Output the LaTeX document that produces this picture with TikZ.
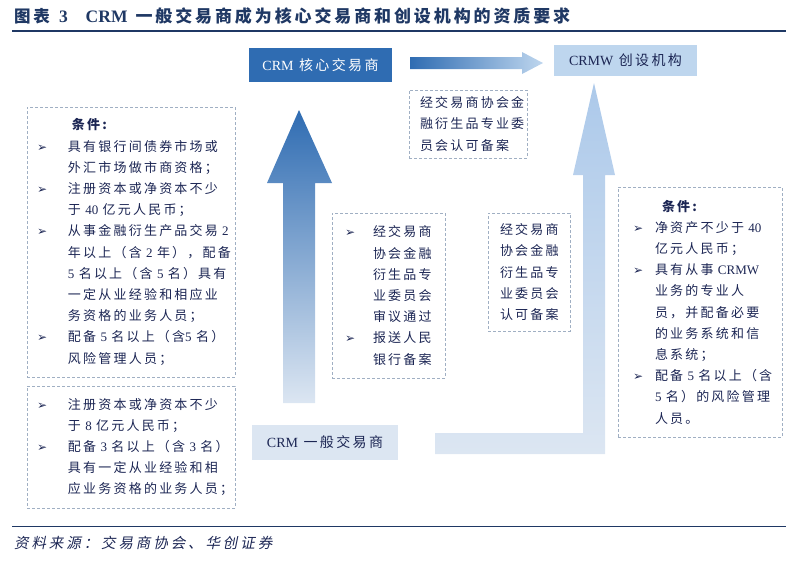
\documentclass[tikz,border=0pt]{standalone}
\usepackage{fontspec}
\setmainfont{Liberation Serif}
\newfontfamily\cjk[LetterSpace=17]{Noto Sans CJK SC}
\newfontfamily\cjkit[LetterSpace=20,FakeSlant=0.2]{Noto Sans CJK SC}
\newfontfamily\sym{DejaVu Sans}
\definecolor{crmdark}{RGB}{47,108,178}
\definecolor{crmlight}{RGB}{220,230,242}
\definecolor{crmwfill}{RGB}{190,214,238}
\definecolor{crmarrow}{RGB}{172,201,234}
\definecolor{crmnavy}{RGB}{28,38,84}
\definecolor{crmtitle}{RGB}{31,56,100}
\definecolor{crmdash}{RGB}{160,175,195}
\usetikzlibrary{positioning}
\newcommand\en[1]{{\rmfamily #1}}
\newcommand\itm[1][31pt]{\makebox[#1][l]{\sym\fontsize{12}{12}\selectfont ➢}}
\newcommand\cnt[1][31pt]{\hspace*{#1}}

\begin{document}
\begin{tikzpicture}[x=1pt,y=-1pt,
  corebox/.style={fill=crmdark,text=white,minimum width=143pt,minimum height=34pt,inner sep=0pt,font=\cjk\fontsize{14}{16}\selectfont},
  lightbox/.style={fill=crmlight,text=crmnavy,minimum width=146pt,minimum height=35pt,inner sep=0pt,font=\cjk\fontsize{14}{16}\selectfont},
  infobox/.style={draw=crmdash,dashed,dash pattern=on 3pt off 2pt,line width=0.7pt,text=crmnavy,align=left,inner ysep=0pt,font=\cjk\fontsize{13}{21.2}\selectfont}]
  \useasboundingbox (0,0) rectangle (796,563);
  % Title
  \node[anchor=west,text=crmtitle,inner sep=0pt] (title) at (14,16)
    {{\cjk\bfseries\fontsize{16.5}{18}\selectfont 图表}\hspace{9pt}{\bfseries\fontsize{17.5}{18}\selectfont 3\hspace{18pt}CRM}\hspace{8pt}{\cjk\bfseries\fontsize{17}{18}\selectfont 一般交易商成为核心交易商和创设机构的资质要求}};
  \draw[crmtitle,line width=1.2pt] (12,31) -- (786,31);
  % Arrows
  \shade[top color=crmdark,bottom color=crmlight] (283,403) -- (315,403) -- (315,183) -- (332,183) -- (299,110) -- (267,183) -- (283,183) -- cycle;
  \shade[left color=crmdark,right color=crmwfill] (410,57) -- (522,57) -- (522,52) -- (543,63) -- (522,74) -- (522,69) -- (410,69) -- cycle;
  \shade[top color=crmarrow,bottom color=crmlight] (435,433) -- (583,433) -- (583,175) -- (573,175) -- (594,83) -- (615,175) -- (605,175) -- (605,454) -- (435,454) -- cycle;
  % Dealers
  \node[corebox] (core) at (320.5,65) {\en{CRM}~核心交易商};
  \node[lightbox,fill=crmwfill,minimum width=143pt,minimum height=31pt] (crmw) at (625.5,60.5) {\en{CRMW}~创设机构};
  \node[lightbox] (general) at (325,442.5) {\en{CRM}~一般交易商};
  % Conditions for core dealer
  \node[infobox,minimum width=208pt,minimum height=270pt,inner xsep=10pt,text width=188pt] (condcore) at (131,242) {%
    \cnt[35pt]{\bfseries 条件:}\\
    \itm 具有银行间债券市场或\\
    \cnt 外汇市场做市商资格；\\
    \itm 注册资本或净资本不少\\
    \cnt 于~\en{40}~亿元人民币；\\
    \itm 从事金融衍生产品交易~\en{2}\\
    \cnt 年以上（含~\en{2}~年），配备\\
    \cnt\en{5}~名以上（含~\en{5}~名）具有\\
    \cnt 一定从业经验和相应业\\
    \cnt 务资格的业务人员；\\
    \itm 配备~\en{5}~名以上（含\en{5}~名）\\
    \cnt 风险管理人员；};
  % Conditions for general dealer
  \node[infobox,minimum width=208pt,minimum height=122pt,inner xsep=10pt,text width=188pt] (condgen) at (131,447) {%
    \itm 注册资本或净资本不少\\
    \cnt 于~\en{8}~亿元人民币；\\
    \itm 配备~\en{3}~名以上（含~\en{3}~名）\\
    \cnt 具有一定从业经验和相\\
    \cnt 应业务资格的业务人员；};
  % Approval steps
  \node[infobox,minimum width=118pt,minimum height=68pt,inner xsep=11pt,text width=96pt] (stepcore) at (468,124) {%
    经交易商协会金\\融衍生品专业委\\员会认可备案};
  \node[infobox,minimum width=113pt,minimum height=165pt,inner xsep=13pt,text width=87pt] (stepup) at (388.5,295.5) {%
    \itm[28pt]经交易商\\
    \cnt[28pt]协会金融\\
    \cnt[28pt]衍生品专\\
    \cnt[28pt]业委员会\\
    \cnt[28pt]审议通过\\
    \itm[28pt]报送人民\\
    \cnt[28pt]银行备案};
  \node[infobox,minimum width=82pt,minimum height=118pt,inner xsep=12pt,text width=58pt] (stepcrmw) at (529,272) {%
    经交易商\\协会金融\\衍生品专\\业委员会\\认可备案};
  % Conditions for CRMW
  \node[infobox,minimum width=164pt,minimum height=250pt,inner xsep=15pt,text width=134pt] (condcrmw) at (700,312) {%
    \cnt[29pt]{\bfseries 条件:}\\
    \itm[22pt]净资产不少于~\en{40}\\
    \cnt[22pt]亿元人民币；\\
    \itm[22pt]具有从事~\en{CRMW}\\
    \cnt[22pt]业务的专业人\\
    \cnt[22pt]员，并配备必要\\
    \cnt[22pt]的业务系统和信\\
    \cnt[22pt]息系统；\\
    \itm[22pt]配备~\en{5}~名以上（含\\
    \cnt[22pt]\en{5}~名）的风险管理\\
    \cnt[22pt]人员。};
  % Source
  \draw[crmtitle,line width=1pt] (12,526) -- (786,526);
  \node[anchor=west,text=crmnavy,inner sep=0pt,font=\cjkit\fontsize{14.5}{16}\selectfont] (source) at (14,543) {资料来源：交易商协会、华创证券};
\end{tikzpicture}
\end{document}
